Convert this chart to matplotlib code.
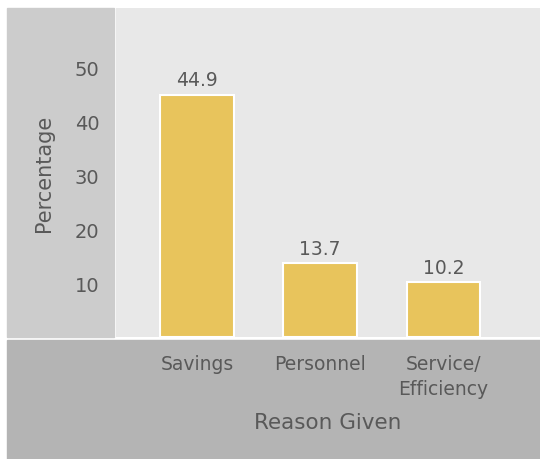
import matplotlib.pyplot as plt
from matplotlib.patches import Rectangle
import numpy as np

reasons = ["Savings", "Personnel", "Service/\nEfficiency"]
percentages = [44.9, 13.7, 10.2]
yticks = [10, 20, 30, 40, 50]

W, H = 540, 460
TEXT = "#595959"
BAR = "#e8c45c"

plt.rcParams["font.family"] = ["DejaVu Sans"]

fig = plt.figure(figsize=(W / 100, H / 100), dpi=100)


def fx(px):
    return px / W


def fy(py):
    return 1 - py / H


# grey panels behind the axis labels
fig.patches.append(Rectangle((fx(7), fy(338)), fx(114 - 7), fy(9) - fy(338),
                             transform=fig.transFigure, color="#cccccc", zorder=-5))
fig.patches.append(Rectangle((fx(7), fy(460)), fx(540 - 7), fy(341) - fy(460),
                             transform=fig.transFigure, color="#b4b4b4", zorder=-5))

ax = fig.add_axes([fx(116), fy(338), fx(540 - 116), fy(9) - fy(338)])
ax.set_facecolor("#e8e8e8")

x = np.arange(len(reasons))
bars = ax.bar(x, percentages, width=0.6, color=BAR, edgecolor="white", linewidth=1.5)
for b, v in zip(bars, percentages):
    ax.text(b.get_x() + b.get_width() / 2, v + 1.0, f"{v}", ha="center", va="bottom",
            fontsize=13.5, color=TEXT)

ax.set_xlim(-0.657, 2.783)
ax.set_ylim(0, 61)
ax.set_yticks(yticks)
ax.set_xticks(x)
ax.set_xticklabels(reasons, fontsize=13.5, color=TEXT, linespacing=1.45)
ax.tick_params(axis="y", length=0, pad=12, labelsize=14, labelcolor=TEXT)
ax.tick_params(axis="x", length=0, pad=12)
for s in ax.spines.values():
    s.set_visible(False)

ax.set_ylabel("Percentage", fontsize=15, color=TEXT, labelpad=15)
ax.set_xlabel("Reason Given", fontsize=15.5, color=TEXT, labelpad=10)

fig.savefig("out.png", dpi=100)
